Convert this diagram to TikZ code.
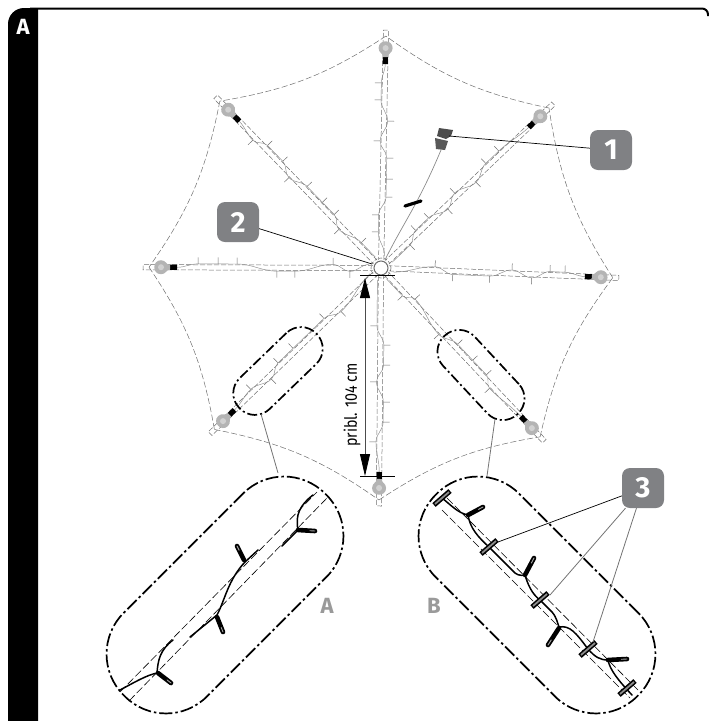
\documentclass[tikz,border=0pt]{standalone}
\usepackage{fontspec}
\usepackage{graphicx}
\setmainfont{Fira Sans}
\usetikzlibrary{calc,arrows.meta}
\definecolor{badgegray}{HTML}{808184}
\definecolor{railgray}{HTML}{6F6F6F}
\definecolor{wiregray}{HTML}{8A8A8A}
\definecolor{bulbgray}{HTML}{B4B4B4}
\definecolor{lettergray}{HTML}{9A9A9A}
\tikzset{
  badge/.style={fill=badgegray,rounded corners=8pt,minimum width=42pt,minimum height=40pt,inner sep=0pt,text=white,font=\fontsize{29}{29}\selectfont\bfseries},
  leader/.style={line width=.7pt,black},
  leadergray/.style={line width=.8pt,black!55},
  rail/.style={railgray,line width=.5pt,dash pattern=on 5pt off 2pt},
  edgeline/.style={railgray,line width=.5pt,dash pattern=on 6pt off 2.5pt},
  smallcap/.style={draw,line width=1.7pt,rounded corners=21pt,minimum width=107pt,minimum height=43pt,inner sep=0pt,dash pattern=on 10pt off 3pt on 2pt off 3pt},
  bigcap/.style={draw,line width=1.7pt,rounded corners=58pt,minimum width=285pt,minimum height=118pt,inner sep=0pt,dash pattern=on 13pt off 3pt on 2.5pt off 3pt},
  wire/.style={line width=1.5pt,black,line cap=round},
  lamp/.style={line width=4.6pt,black,line cap=round},
  lampin/.style={line width=.9pt,black!35,line cap=round},
  clipbar/.style={line width=5pt,black},
  clipin/.style={line width=1.8pt,black!45},
  letter/.style={font=\fontsize{22}{22}\selectfont\bfseries,text=lettergray,inner sep=0pt}
}
\begin{document}
\begin{tikzpicture}[x=1pt,y=-1pt]
	\useasboundingbox (0,0) rectangle (709,721);
	%FRAME
	\fill (38,721) -- (8,721) -- (8,24) to[out=90,in=180] (24,8) -- (38,8) -- cycle;
	\draw[line width=2pt,rounded corners=6pt] (30,8.5) -- (708,8.5) -- (708,16);
	\node[inner sep=0pt,text=white,font=\fontsize{22}{22}\selectfont\bfseries] (corner) at (23,27) {A};
	\coordinate (hub) at (381,268);
	%SPOKES
	\foreach \i/\ang/\ticks in {
		1/88.8/{36/-1,53/-1,71/1,89/1,110/1,127/-1,147/1,168/-1,185/-1,204/0},
		2/43.6/{37/1,51/-1,69/-1,89/1,105/-1,128/1,148/-1,166/-1,204/0},
		3/-2.4/{54/-1,72/1,109/1,131/-1,151/1,169/-1,184/-1,204/0},
		4/-46.7/{35/1,46/-1,88/1,108/-1,130/-1,150/-1,162/1,204/0},
		5/-90.5/{58/1,77/-1,97/-1,114/1,134/-1,154/-1,174/1,204/0},
		6/224.1/{59/-1,76/1,119/1,140/1,156/-1,178/1,204/0},
		7/179.8/{31/-1,48/1,86/-1,104/-1,144/1,163/1,183/1,204/0},
		8/134/{32/1,57/-1,71/1,88/1,110/1,129/-1,145/1,167/1,181/-1,204/0}}{
		\begin{scope}[shift={(hub)},rotate=\ang]
			\draw[rail] (8,2.6) -- (238,2.6) -- (238,-2.6) -- (8,-2.6);
			\foreach \p/\s [remember=\p as \q (initially 12),remember=\s as \r (initially 1)] in \ticks{
				\draw[wiregray,line width=.45pt] (\q,3.5*\r) to[out=0,in=180] (\p,3.5*\s);
				\draw[railgray,line width=.5pt] (\p,3.5*\s) -- (\p,10*\s);
			}
			\fill[black] (204,-2.6) rectangle (211,2.6);
			\fill[bulbgray] (211,-2.2) .. controls (215,-2.5) and (215,-7) .. (220,-7) .. controls (229,-7) and (229,7) .. (220,7) .. controls (215,7) and (215,2.5) .. (211,2.2) -- cycle;
			\fill[black!18] (220,0) circle (3);
			\coordinate (tip\i) at (232,0);
		\end{scope}
	}
	%OUTER EDGES
	\foreach \a/\b in {1/2,2/3,3/4,4/5,5/6,6/7,7/8,8/1}{
		\draw[edgeline] (tip\b) to[bend left=12] (tip\a);
	}
	%HUB
	\draw[railgray,line width=.6pt,densely dashed] (hub) circle (10);
	\fill[white] (hub) circle (8.5);
	\draw[railgray,fill=white,line width=1pt] (hub) circle (7);
	%CONTROLLER
	\coordinate (box) at (441,150);
	\draw[wiregray,line width=.7pt] (hub) ++(4,-8) .. controls (402,225) and (418,205) .. (box);
	\draw[black,line width=3.2pt,line cap=round] (405,206) -- (421,201);
	\fill[black!65] (435,138) -- (448,141) -- (445,150) -- (436,149) -- cycle;
	\fill[black!70] (439,128) -- (453,130) -- (451,136) -- (446,139) -- (437,136) -- cycle;
	%DETAIL CAPSULES
	\node[smallcap,rotate=44] (smallA) at (278,371) {};
	\node[smallcap,rotate=-47] (smallB) at (481,375) {};
	\node[bigcap,rotate=45] (bigA) at (225,595) {};
	\node[bigcap,rotate=-45] (bigB) at (537,595) {};
	\coordinate (legA1) at (261,414);
	\coordinate (legA2) at (278,473);
	\coordinate (legB1) at (495,419);
	\coordinate (legB2) at (487,476);
	\draw[leadergray] (legA1) -- (legA2);
	\draw[leadergray] (legB1) -- (legB2);
	\node[letter] (letA) at (327,606) {A};
	\node[letter] (letB) at (434,606) {B};
	%DETAIL A
	\draw[rail,black,line width=.6pt,dash pattern=on 8pt off 3pt] (120,692) -- (317,492);
	\draw[rail,black,line width=.6pt,dash pattern=on 8pt off 3pt] (129,701) -- (328,497);
	\draw[wire] (120,690) .. controls (135,682) and (147,675) .. (157,673) .. controls (158,660) and (160,650) .. (173,640);
	\draw[wire] (190,637) -- (217,615) .. controls (225,600) and (228,580) .. (245,562) -- (258,550);
	\draw[wire] (282,546) -- (298,530) .. controls (295,515) and (300,505) .. (313,495);
	\foreach \ax/\ay/\bx/\by in {158/673/171/683,217/617/223/632,244/560/237/546,298/530/315/531}{
		\draw[lamp] (\ax,\ay) -- (\bx,\by);
		\draw[lampin] ($(\ax,\ay)!.7!(\bx,\by)$) -- (\bx,\by);
	}
	%DETAIL B
	\draw[rail,black,line width=.6pt,dash pattern=on 8pt off 3pt] (447,498) -- (638,690);
	\draw[rail,black,line width=.6pt,dash pattern=on 8pt off 3pt] (442,510) -- (630,698);
	\draw[wire] (442,498) .. controls (452,506) and (458,513) .. (468,515) .. controls (470,528) and (478,537) .. (489,547) -- (512,570) .. controls (516,575) and (520,576) .. (525,575) .. controls (528,585) and (532,594) .. (540,600) -- (552,612) .. controls (557,618) and (557,622) .. (559,627) .. controls (570,625) and (576,633) .. (588,649) .. controls (595,657) and (600,660) .. (608,660) .. controls (610,670) and (618,680) .. (632,695);
	\foreach \ax/\ay/\bx/\by in {468/515/483/507,525/575/534/558,559/628/548/645,608/660/627/659}{
		\draw[lamp] (\ax,\ay) -- (\bx,\by);
		\draw[lampin] ($(\ax,\ay)!.7!(\bx,\by)$) -- (\bx,\by);
	}
	\foreach \n/\x/\y in {1/442/498,2/489/547,3/540/600,4/588/649,5/627/688}{
		\coordinate (clip\n) at (\x,\y);
		\draw[clipbar] ($(clip\n)+(-8,7)$) -- ($(clip\n)+(8,-7)$);
		\draw[clipin] ($(clip\n)+(-7,6)$) -- ($(clip\n)+(7,-6)$);
	}
	%BADGES
	\node[badge] (one) at (611,150) {1};
	\node[badge] (two) at (238,222) {2};
	\node[badge] (three) at (643,488) {3};
	\coordinate (boxpt) at (449,136);
	\coordinate (hubpt) at (372,264);
	\draw[leader] (one) -- (boxpt);
	\draw[leader] (two) -- (hubpt);
	\draw[leader] (three) -- ($(clip2)+(9,-5)$);
	\draw[leadergray] (three) -- ($(clip3)+(10,-5)$);
	\draw[leadergray] (three) -- ($(clip4)+(5,-7)$);
	%LENGTH
	\coordinate (dimtop) at (365,278);
	\coordinate (dimbot) at (365,476);
	\draw[line width=.6pt] (360,275) -- (395,275);
	\draw[line width=.6pt] (360,476) -- (395,476);
	\draw[black!70,line width=.8pt,{Triangle[black,length=20pt,width=10pt]}-{Triangle[black,length=22pt,width=10pt]}] (dimtop) -- (dimbot);
	\node[rotate=90,inner sep=0pt,font=\fontsize{17}{17}\selectfont] (dimtext) at (352,405) {\scalebox{.84}[1]{pribl. 104 cm}};
\end{tikzpicture}
\end{document}
